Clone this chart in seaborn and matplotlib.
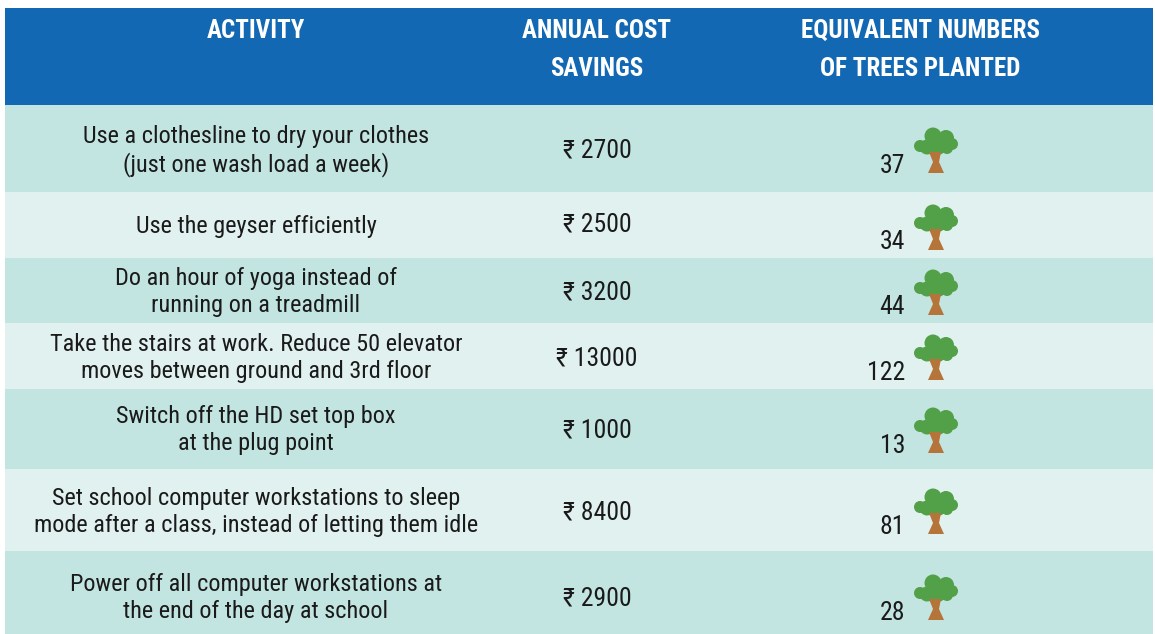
import numpy as np
import pandas as pd
import matplotlib
matplotlib.use('Agg')
import matplotlib.pyplot as plt
from matplotlib.colors import ListedColormap
from matplotlib.patches import Circle, Polygon
import seaborn as sns

# table content
columns = ['ACTIVITY', 'ANNUAL COST\nSAVINGS', 'EQUIVALENT NUMBERS\nOF TREES PLANTED']
activities = [
    'Use a clothesline to dry your clothes\n(just one wash load a week)',
    'Use the geyser efficiently',
    'Do an hour of yoga instead of\nrunning on a treadmill',
    'Take the stairs at work. Reduce 50 elevator\nmoves between ground and 3rd floor',
    'Switch off the HD set top box\nat the plug point',
    'Set school computer workstations to sleep\nmode after a class, instead of letting them idle',
    'Power off all computer workstations at\nthe end of the day at school',
]
savings = [2700, 2500, 3200, 13000, 1000, 8400, 2900]
trees = [37, 34, 44, 122, 13, 81, 28]

# layout in pixels
W, H = 1155, 634
left, right, top = 5, 1153, 8
row_heights = [97, 87, 66, 65, 66, 80, 82, 83]
row_y = [151, 226, 292, 358, 430, 512, 598]
cost_y = [150, 225, 292, 358, 430, 512, 598]
tree_y = [151, 228, 293, 358, 431, 512, 598]
num_y = [166, 242, 307, 373, 446, 527, 613]
header_x = [256, 597, 920]

df = pd.DataFrame({'activity': activities, 'savings': savings, 'trees': trees})

fig = plt.figure(figsize=(W / 100, H / 100), dpi=100, facecolor='white')
plt.rcParams['font.family'] = ['Roboto Condensed', 'DejaVu Sans']

# row bands, one heatmap cell per pixel row so the heights can differ
bands = [0] + [1 if i % 2 == 0 else 2 for i in range(len(df))]
band_cells = np.repeat(bands, row_heights)[:, None]
ax_bg = fig.add_axes([left / W, 0, (right - left) / W, 1 - top / H])
sns.heatmap(band_cells, ax=ax_bg, cbar=False, xticklabels=False, yticklabels=False,
            cmap=ListedColormap(['#1368B3', '#C3E5E2', '#E1F1EF']), vmin=0, vmax=2)

# overlay in pixel coordinates for text and trees
ax = fig.add_axes([0, 0, 1, 1])
ax.set_xlim(0, W)
ax.set_ylim(H, 0)
ax.axis('off')


def draw_tree(ax, x, y):
    for dx, dy, r in [(-16, -5, 6), (-9, -4, 7.5), (-3, -15, 8.5), (10, -13, 8), (16, -7, 6),
                      (4, -6, 8.5), (2, -3, 7), (11, -3, 6), (-3, -3, 7)]:
        ax.add_patch(Circle((x + dx, y + dy), r, fc='#52A047', ec='none'))
    ax.add_patch(Polygon([(x - 7, y + 1), (x + 5, y + 1), (x + 3, y + 11), (x + 8, y + 22),
                          (x - 8, y + 22), (x - 3, y + 11)],
                         closed=True, fc='#B5743A', ec='none'))


for col, x in zip(columns, header_x):
    ax.text(x, 19, col, color='white', fontsize=18, fontweight='bold', ha='center', va='top',
            linespacing=1.72)

for i, row in df.iterrows():
    ax.text(256, row_y[i], row['activity'], ha='center', va='center', fontsize=17.5,
            color='#1a1a1a', linespacing=1.2)
    ax.text(597, cost_y[i], f"₹ {row['savings']}", ha='center', va='center', fontsize=18.5, color='#1a1a1a')
    ax.text(905, num_y[i], str(row['trees']), ha='right', va='center', fontsize=18.5, color='#1a1a1a')
    draw_tree(ax, 936, tree_y[i])

fig.savefig('out.png', dpi=100)
